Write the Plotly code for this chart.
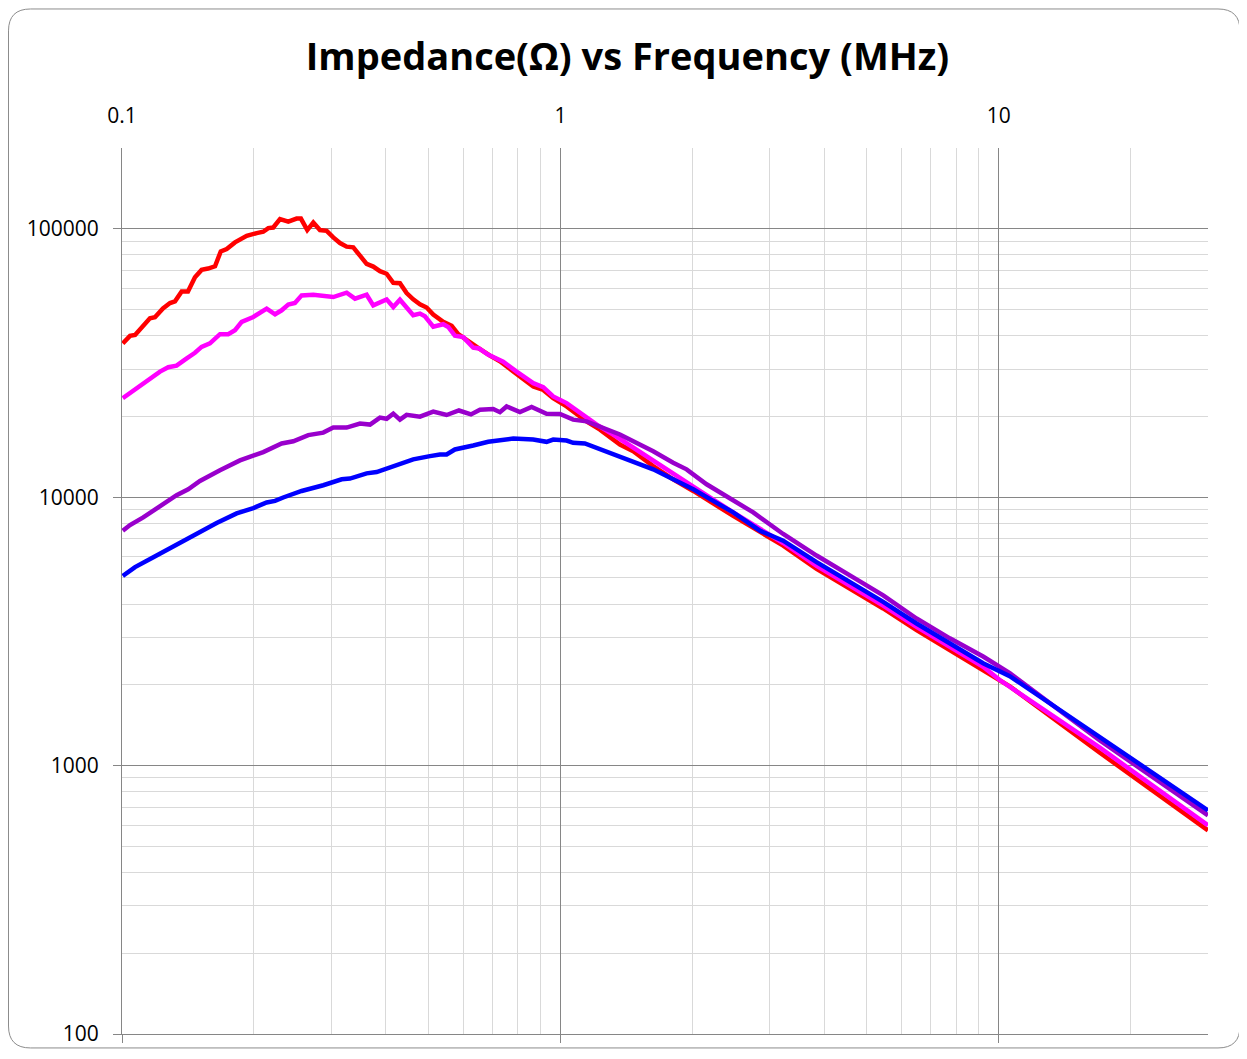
import plotly.graph_objects as go
import math

# Frequencies (MHz) and impedance (Ohm)
red_f = [0.1004, 0.1043, 0.1071, 0.1109, 0.1158, 0.1189, 0.1240, 0.1287, 0.1321, 0.1368,
         0.1414, 0.1467, 0.1519, 0.1571, 0.1630, 0.1680, 0.1733, 0.1810, 0.1925, 0.2029,
         0.2100, 0.2156, 0.2213, 0.2293, 0.2395, 0.2502, 0.2559, 0.2646, 0.2731, 0.2828,
         0.2930, 0.3033, 0.3142, 0.3254, 0.3369, 0.3490, 0.3614, 0.3742, 0.3876, 0.4014,
         0.4157, 0.4305, 0.4459, 0.4616, 0.4782, 0.4953, 0.5128, 0.5404, 0.5648, 0.5847,
         0.6111, 0.6441, 0.6908, 0.7278, 0.7806, 0.8670, 0.9137, 0.9629, 1.033, 1.147,
         1.231, 1.367, 1.466, 1.628, 1.808, 2.009, 2.478, 3.222, 3.840, 4.574,
         5.448, 6.492, 7.731, 9.209, 10.59, 17.0, 30.0]
red_z = [37400, 39900, 40200, 42600, 46400, 46800, 50500, 52900, 53700, 58400,
         58400, 66000, 70300, 71100, 72500, 82400, 84100, 89000, 94200, 96400,
         97500, 100600, 101100, 108600, 106400, 109200, 109200, 98900, 105500, 98900,
         98300, 92900, 88500, 85800, 85300, 79400, 74000, 72300, 69500, 68000,
         62900, 62700, 57600, 54600, 52300, 50900, 47900, 45000, 43500, 40500,
         38700, 36300, 33700, 32100, 29400, 25840, 25100, 23400, 21800, 19180,
         17860, 15720, 14840, 13060, 11660, 10550, 8520, 6600, 5410, 4560,
         3850, 3197, 2696, 2273, 1974, 1117, 574]

magenta_f = [0.1004, 0.1061, 0.1118, 0.1158, 0.1221, 0.1275, 0.1332, 0.1405, 0.1467, 0.1519,
             0.1587, 0.1673, 0.1747, 0.1810, 0.1875, 0.1993, 0.2138, 0.2234, 0.2313, 0.2395,
             0.2480, 0.2569, 0.2731, 0.3033, 0.3254, 0.3400, 0.3614, 0.3742, 0.4014, 0.4157,
             0.4305, 0.4616, 0.4782, 0.4909, 0.5128, 0.5404, 0.5547, 0.5745, 0.6001, 0.6325,
             0.6520, 0.6836, 0.7404, 0.7945, 0.8670, 0.9137, 0.9629, 1.033, 1.108, 1.210,
             1.319, 1.466, 1.628, 1.841, 2.080, 2.478, 3.222, 3.840, 4.574, 5.448,
             6.492, 7.731, 9.209, 10.05, 17.0, 30.0]
magenta_z = [23400, 24960, 26600, 27530, 29370, 30490, 30900, 32900, 34520, 36310,
             37400, 40480, 40480, 41900, 44980, 46940, 50430, 48030, 49700, 52170,
             52890, 56480, 56800, 55670, 57800, 54900, 56800, 51860, 54580, 51110,
             54440, 47620, 48320, 47220, 43170, 44100, 43090, 39990, 39480, 36090,
             35840, 34010, 31970, 29360, 26590, 25700, 23730, 22420, 20590, 18640,
             17120, 15280, 13630, 11990, 10550, 8776, 6753, 5551, 4682, 3947,
             3286, 2771, 2336, 2083, 1166, 599]

purple_f = [0.1004, 0.1043, 0.1118, 0.1221, 0.1332, 0.1416, 0.1506, 0.1673, 0.1858, 0.2100,
            0.2313, 0.2459, 0.2660, 0.2878, 0.3033, 0.3254, 0.3490, 0.3679, 0.3876, 0.4014,
            0.4157, 0.4305, 0.4459, 0.4782, 0.5128, 0.5501, 0.5868, 0.6251, 0.6553, 0.7027,
            0.7278, 0.7540, 0.8085, 0.8596, 0.9300, 0.9975, 1.069, 1.147, 1.231, 1.367,
            1.466, 1.628, 1.808, 1.940, 2.155, 2.393, 2.753, 3.222, 3.840, 4.574,
            5.448, 6.492, 7.731, 9.209, 10.59, 17.0, 30.0]
purple_z = [7504, 7877, 8410, 9240, 10170, 10700, 11490, 12590, 13710, 14720,
            15850, 16160, 17040, 17400, 18170, 18170, 18800, 18640, 19790, 19590,
            20470, 19450, 20270, 19950, 20830, 20240, 21040, 20350, 21180, 21310,
            20740, 21780, 20770, 21670, 20470, 20420, 19450, 19170, 18370, 17120,
            16160, 14840, 13450, 12700, 11170, 10110, 8776, 7295, 6062, 5111,
            4310, 3533, 2980, 2549, 2210, 1240, 653]

blue_f = [0.1004, 0.1071, 0.1179, 0.1287, 0.1368, 0.1493, 0.1644, 0.1826, 0.1993, 0.2138,
          0.2234, 0.2332, 0.2569, 0.2878, 0.3170, 0.3311, 0.3614, 0.3809, 0.4085, 0.4305,
          0.4616, 0.5040, 0.5310, 0.5501, 0.5745, 0.6325, 0.6846, 0.7806, 0.8670, 0.9300,
          0.9629, 1.033, 1.069, 1.137, 1.231, 1.367, 1.466, 1.628, 1.808, 2.009,
          2.231, 2.478, 2.851, 3.222, 3.840, 4.574, 5.448, 6.492, 7.731, 9.209,
          10.59, 17.0, 30.0]
blue_z = [5085, 5490, 5978, 6474, 6795, 7402, 8012, 8700, 9107, 9559,
          9690, 9975, 10550, 11080, 11660, 11730, 12270, 12410, 12880, 13250,
          13830, 14220, 14430, 14430, 15060, 15580, 16080, 16540, 16400, 16080,
          16400, 16260, 15950, 15850, 15060, 14150, 13450, 12700, 11660, 10700,
          9690, 8776, 7504, 6888, 5729, 4832, 4074, 3384, 2855, 2407,
          2154, 1270, 681]

x_tick_vals = [0.1, 1, 10]
x_tick_text = ["0.1", "1", "10"]
y_tick_vals = [100, 1000, 10000, 100000]
y_tick_text = ["100", "1000", "10000", "100000"]

title_text = "Impedance(\u03a9) vs Frequency (MHz)"

series = [
    ("red", red_f, red_z, "#FF0000"),
    ("magenta", magenta_f, magenta_z, "#FF00FF"),
    ("purple", purple_f, purple_z, "#9900CC"),
    ("blue", blue_f, blue_z, "#0000FF"),
]

fig = go.Figure()
for name, f, z, col in series:
    fig.add_trace(go.Scatter(x=f, y=z, mode="lines", name=name,
                             line=dict(color=col, width=4.5)))

# invisible trace so the top label axis is drawn
fig.add_trace(go.Scatter(x=blue_f, y=blue_z, xaxis="x2", mode="lines",
                         line=dict(width=0, color="rgba(0,0,0,0)"),
                         hoverinfo="skip", showlegend=False))

MAJOR = "#868686"
MINOR = "#d9d9d9"
x_range = [math.log10(0.1), math.log10(30)]
y_range = [math.log10(100), math.log10(200000)]

# the page body adds an 8px offset
OFF = 8
FW, FH = 1247 - OFF, 1059 - OFF
ML, MT = 122 - OFF, 148 - OFF
MR = FW - (1208 - OFF)
MB = FH - (1037 - OFF)

fig.update_layout(
    width=FW, height=FH,
    margin=dict(l=ML, r=MR, t=MT, b=MB),
    paper_bgcolor="white", plot_bgcolor="white",
    showlegend=False,
    font=dict(family="Open Sans", size=21, color="black"),
    title=dict(text="<b>" + title_text + "</b>", x=0.5, xanchor="center",
               y=1 - (57 - OFF) / FH, yanchor="middle",
               font=dict(family="Open Sans", size=38, color="black")),
    xaxis=dict(type="log", range=x_range, side="bottom",
               showline=True, linecolor=MAJOR, linewidth=1,
               ticks="outside", ticklen=8, tickcolor=MAJOR,
               tickvals=x_tick_vals, showticklabels=False,
               showgrid=True, gridcolor=MAJOR, gridwidth=1,
               minor=dict(dtick="D1", showgrid=True, gridcolor=MINOR, gridwidth=1, ticks=""),
               zeroline=False),
    xaxis2=dict(type="log", range=x_range, overlaying="x", side="top", anchor="y",
                showline=False, showgrid=False, ticks="",
                tickvals=x_tick_vals, ticktext=x_tick_text,
                ticklabelstandoff=20, zeroline=False),
    yaxis=dict(type="log", range=y_range,
               showline=True, linecolor=MAJOR, linewidth=1,
               ticks="outside", ticklen=8, tickcolor=MAJOR,
               tickvals=y_tick_vals, ticktext=y_tick_text, ticklabelstandoff=10,
               showgrid=True, gridcolor=MAJOR, gridwidth=1,
               minor=dict(dtick="D1", showgrid=True, gridcolor=MINOR, gridwidth=1, ticks=""),
               zeroline=False),
)

# Rounded chart border (paper coordinates relative to plot area)
pw, ph = 1086.0, 889.0
def px(xp):
    return (xp - 122) / pw
def py(yp):
    return (1037 - yp) / ph
L, R, T, B, rad = 8.5, 1240, 8.5, 1051, 22
path = (f"M {px(L + rad)},{py(T)} L {px(R - rad)},{py(T)} Q {px(R)},{py(T)} {px(R)},{py(T + rad)} "
        f"L {px(R)},{py(B - rad)} Q {px(R)},{py(B)} {px(R - rad)},{py(B)} "
        f"L {px(L + rad)},{py(B)} Q {px(L)},{py(B)} {px(L)},{py(B - rad)} "
        f"L {px(L)},{py(T + rad)} Q {px(L)},{py(T)} {px(L + rad)},{py(T)} Z")
fig.add_shape(type="path", path=path, xref="paper", yref="paper",
              line=dict(color="#8c8c8c", width=1), layer="below")

fig.write_html("out.html")
